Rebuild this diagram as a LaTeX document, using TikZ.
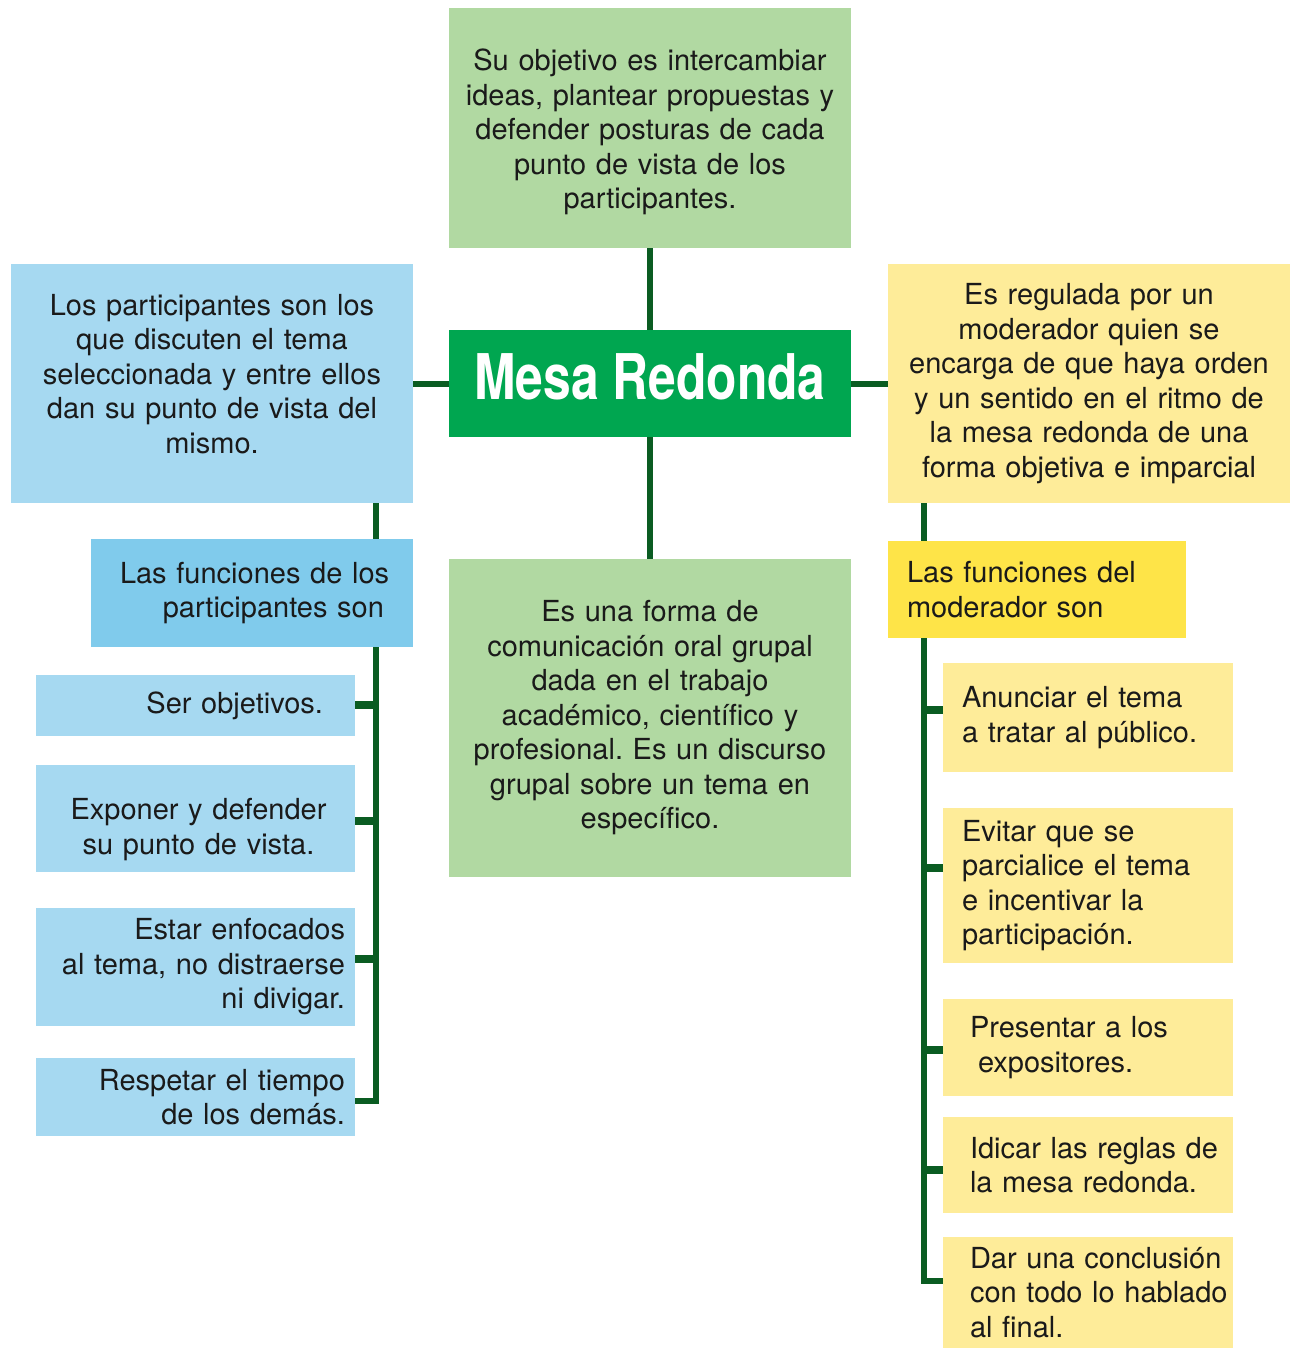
\documentclass[tikz,border=0pt]{standalone}
\usepackage{fontspec}
\setmainfont{TeX Gyre Heros}
\newfontfamily\titlefont[FakeStretch=0.79]{TeX Gyre Heros}
\definecolor{lgreen}{HTML}{B1D9A2}
\definecolor{tgreen}{HTML}{00A650}
\definecolor{lnk}{HTML}{0A5C22}
\definecolor{lblue}{HTML}{A6D9F1}
\definecolor{mblue}{HTML}{80CBEC}
\definecolor{lyel}{HTML}{FEEC99}
\definecolor{byel}{HTML}{FEE448}
\definecolor{txt}{HTML}{1A1A1A}
\newcommand{\dn}[1]{\rule[-#1pt]{0pt}{0pt}}
\tikzset{
  box/.style={rectangle, inner sep=0pt, text=txt, font=\fontsize{29}{34.5}\selectfont\frenchspacing},
  conn/.style={draw=lnk, line width=6pt},
  stub/.style={draw=lnk, line width=8pt},
}
\begin{document}
\begin{tikzpicture}[x=1pt,y=-1pt]
\useasboundingbox (0,0) rectangle (1291,1349);
% central column
\node[box, fill=lgreen, minimum width=402pt, minimum height=240pt, text width=390pt, align=center] (top) at (650,128)
 {\rule{0pt}{30pt}Su objetivo es intercambiar\\ideas, plantear propuestas y\\defender posturas de cada\\punto de vista de los\\participantes.};
\node[box, fill=tgreen, minimum width=402pt, minimum height=107pt, text=white, font=\titlefont\bfseries\fontsize{63}{70}\selectfont] (title) at (650,383.5) {Mesa Redonda\dn{13}};
\node[box, fill=lgreen, minimum width=402pt, minimum height=318pt, text width=390pt, align=center] (mid) at (650,718)
 {Es una forma de\\comunicación oral grupal\\dada en el trabajo\\académico, científico y\\profesional. Es un discurso\\grupal sobre un tema en\\específico.};
% left side
\node[box, fill=lblue, minimum width=402pt, minimum height=239pt, text width=390pt, align=center] (left) at (212,383.5)
 {Los participantes son los\\que discuten el tema\\seleccionada y entre ellos\\dan su punto de vista del\\mismo.\dn{20}};
\node[box, fill=mblue, minimum width=322pt, minimum height=108pt, text width=264pt, align=right] (lfun) at (252,593)
 {\mbox{Las funciones de los}\\\mbox{participantes son}};
\node[box, fill=lblue, minimum width=319pt, minimum height=61pt, text width=255pt, align=right] (l1) at (195.5,705.5)
 {\mbox{Ser objetivos.}};
\node[box, fill=lblue, minimum width=319pt, minimum height=107pt, text width=300pt, align=center] (l2) at (195.5,818.5)
 {\rule{0pt}{43pt}\hspace*{6pt}Exponer y defender\\\hspace*{6pt}su punto de vista.};
\node[box, fill=lblue, minimum width=319pt, minimum height=118pt, text width=299pt, align=right] (l3) at (195.5,967)
 {\mbox{Estar enfocados}\\\mbox{al tema, no distraerse}\\\mbox{ni divigar.}};
\node[box, fill=lblue, minimum width=319pt, minimum height=78pt, text width=299pt, align=right] (l4) at (195.5,1097)
 {\mbox{Respetar el tiempo}\\\mbox{de los demás.}};
% right side
\node[box, fill=lyel, minimum width=402pt, minimum height=239pt, text width=390pt, align=center] (right) at (1089,383.5)
 {Es regulada por un\\moderador quien se\\encarga de que haya orden\\y un sentido en el ritmo de\\la mesa redonda de una\\forma objetiva e imparcial};
\node[box, fill=byel, minimum width=298pt, minimum height=97pt, text width=260pt, align=left] (rfun) at (1037,589.5)
 {\mbox{Las funciones del}\\\mbox{moderador son}};
\node[box, fill=lyel, minimum width=290pt, minimum height=109pt, text width=252pt, align=left] (r1) at (1088,717.5)
 {\mbox{Anunciar el tema}\\\mbox{a tratar al público.}};
\node[box, fill=lyel, minimum width=290pt, minimum height=155pt, text width=252pt, align=left] (r2) at (1088,885.5)
 {\mbox{Evitar que se}\\\mbox{parcialice el tema}\\\mbox{e incentivar la}\\\mbox{participación.}};
\node[box, fill=lyel, minimum width=290pt, minimum height=97pt, text width=236pt, align=left] (r3) at (1088,1047.5)
 {\mbox{Presentar a los}\\\mbox{\hspace*{8pt}expositores.}};
\node[box, fill=lyel, minimum width=290pt, minimum height=96pt, text width=236pt, align=left] (r4) at (1088,1165)
 {\mbox{Idicar las reglas de}\\\mbox{la mesa redonda.}};
\node[box, fill=lyel, minimum width=290pt, minimum height=111pt, text width=236pt, align=left] (r5) at (1088,1292.5)
 {\mbox{Dar una conclusión}\\\mbox{con todo lo hablado}\\\mbox{al final.}};
% connectors
\coordinate (lx) at (376,0);
\coordinate (rx) at (924,0);
\draw[conn] (top.south) -- (title.north);
\draw[conn] (title.south) -- (mid.north);
\draw[conn] (left.east) -- (title.west);
\draw[conn] (title.east) -- (right.west);
\draw[conn] (left.south -| lx) -- (lfun.north -| lx);
\draw[conn, line join=miter] (lfun.south -| lx) -- (lx |- 0,1101) -- (l4.east |- 0,1101);
\draw[stub] (l1.east |- 0,705) -- (lx |- 0,705);
\draw[stub] (l2.east |- 0,821) -- (lx |- 0,821);
\draw[stub] (l3.east |- 0,959) -- (lx |- 0,959);
\draw[conn] (right.south -| rx) -- (rfun.north -| rx);
\draw[conn, line join=miter] (rfun.south -| rx) -- (rx |- 0,1281) -- (r5.west |- 0,1281);
\draw[stub] (r1.west |- 0,710) -- (rx |- 0,710);
\draw[stub] (r2.west |- 0,868) -- (rx |- 0,868);
\draw[stub] (r3.west |- 0,1050) -- (rx |- 0,1050);
\draw[stub] (r4.west |- 0,1170) -- (rx |- 0,1170);
\end{tikzpicture}
\end{document}
